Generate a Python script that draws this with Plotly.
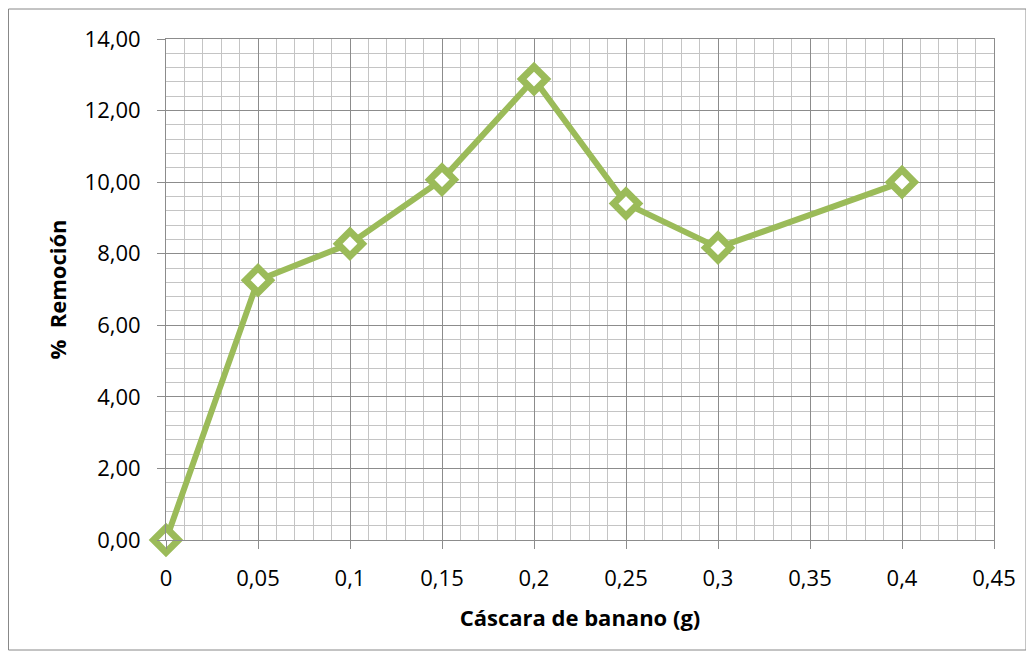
import plotly.graph_objects as go

x_vals = [0, 0.05, 0.1, 0.15, 0.2, 0.25, 0.3, 0.4]
y_vals = [0.0, 7.26, 8.28, 10.07, 12.88, 9.40, 8.17, 10.0]
x_ticks = [0, 0.05, 0.1, 0.15, 0.2, 0.25, 0.3, 0.35, 0.4, 0.45]
x_ticktext = ["0", "0,05", "0,1", "0,15", "0,2", "0,25", "0,3", "0,35", "0,4", "0,45"]
y_ticks = [0, 2, 4, 6, 8, 10, 12, 14]
y_ticktext = ["0,00", "2,00", "4,00", "6,00", "8,00", "10,00", "12,00", "14,00"]

green = "#9BBB59"
font = "Open Sans, Liberation Sans, sans-serif"

fig = go.Figure()
fig.add_trace(go.Scatter(
    x=x_vals, y=y_vals, mode="lines+markers",
    line=dict(color=green, width=6),
    marker=dict(symbol="diamond", size=19, color="white",
                line=dict(color=green, width=7)),
    cliponaxis=False, showlegend=False,
))

OFF = 8  # page body margin
L, R, T, B = 166 - OFF, 994 - OFF, 39 - OFF, 540 - OFF
W, H = 1034, 655
pw, ph = R - L, B - T

fig.update_layout(
    width=W, height=H,
    margin=dict(l=L, r=W - R, t=T, b=H - B),
    paper_bgcolor="white", plot_bgcolor="white",
    font=dict(family=font, size=22, color="black"),
    shapes=[dict(type="rect", xref="paper", yref="paper",
                 x0=(0.5 - L) / pw, x1=(1018 - L) / pw,
                 y0=(B - 642) / ph, y1=(B - 1) / ph,
                 line=dict(color="#888888", width=1), layer="below")],
)
fig.update_xaxes(
    range=[0, 0.45], tickvals=x_ticks, ticktext=x_ticktext,
    showgrid=True, gridcolor="#8c8c8c", gridwidth=1,
    minor=dict(dtick=0.01, showgrid=True, gridcolor="#c4c4c4", gridwidth=1, ticks=""),
    ticks="outside", ticklen=8, tickcolor="#8c8c8c",
    showline=True, linecolor="#8c8c8c", mirror=True, zeroline=False,
    ticklabelstandoff=11,
    title=dict(text="<b>Cáscara de banano (g)</b>", font=dict(size=22), standoff=19),
    tickfont=dict(size=22),
)
fig.update_yaxes(
    range=[0, 14], tickvals=y_ticks, ticktext=y_ticktext,
    showgrid=True, gridcolor="#8c8c8c", gridwidth=1,
    minor=dict(dtick=0.4, showgrid=True, gridcolor="#c4c4c4", gridwidth=1, ticks=""),
    ticks="outside", ticklen=8, tickcolor="#8c8c8c",
    showline=True, linecolor="#8c8c8c", mirror=True, zeroline=False,
    ticklabelstandoff=12,
    title=dict(text="<b>%  Remoción</b>", font=dict(size=22), standoff=11),
    tickfont=dict(size=22),
)

fig.write_html("out.html")
